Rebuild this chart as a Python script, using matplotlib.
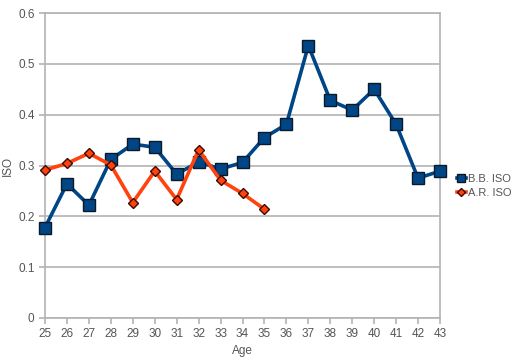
import matplotlib.pyplot as plt
from matplotlib.lines import Line2D

ages = list(range(25, 44))
bb_iso = [0.178, 0.264, 0.222, 0.312, 0.342, 0.336, 0.283, 0.307, 0.293, 0.306,
          0.355, 0.381, 0.536, 0.428, 0.409, 0.450, 0.381, 0.275, 0.289]
ar_ages = list(range(25, 36))
ar_iso = [0.291, 0.304, 0.324, 0.301, 0.227, 0.289, 0.233, 0.331, 0.271, 0.245, 0.214]

plt.rcParams['font.family'] = ['Liberation Sans', 'DejaVu Sans']
grey = '#b3b3b3'
txt = '#555555'

fig = plt.figure(figsize=(5.14, 3.6), dpi=100)
ax = fig.add_axes([45 / 514, 42 / 360, 395 / 514, 305 / 360])

ax.plot(ages, bb_iso, color='#004586', lw=2.6, marker='s', ms=8.5,
        mfc='#004586', mec='#0a1a2a', mew=1.0, label='B.B. ISO', zorder=3, clip_on=False)
ax.plot(ar_ages, ar_iso, color='#ff420e', lw=2.6, marker='D', ms=5.5,
        mfc='#ff420e', mec='#3a0a00', mew=1.0, label='A.R. ISO', zorder=4, clip_on=False)

ax.set_xlim(25, 43)
ax.set_ylim(0, 0.6)
ax.set_xticks(ages)
ax.set_yticks([0, 0.1, 0.2, 0.3, 0.4, 0.5, 0.6])
ax.set_yticklabels(['0', '0.1', '0.2', '0.3', '0.4', '0.5', '0.6'])
ax.yaxis.grid(True, color=grey, lw=1.2)
ax.set_axisbelow(True)
for s in ax.spines.values():
    s.set_color(grey)
    s.set_linewidth(1.2)
ax.tick_params(axis='both', colors=grey, labelcolor=txt, labelsize=8.5, length=4, width=1.2)
ax.set_xlabel('Age', fontsize=8.5, color=txt, labelpad=3)
ax.set_ylabel('ISO', fontsize=8.5, color=txt, labelpad=3)

handles = [
    Line2D([], [], color='#004586', lw=2.6, marker='s', ms=6, mfc='#004586', mec='#0a1a2a'),
    Line2D([], [], color='#ff420e', lw=2.6, marker='D', ms=4, mfc='#ff420e', mec='#3a0a00'),
]
fig.legend(handles, ['B.B. ISO', 'A.R. ISO'], loc='center left',
           bbox_to_anchor=(457 / 514, 1 - 186 / 360), frameon=False,
           fontsize=8, handlelength=0.8, handletextpad=0.2, labelspacing=0.3,
           borderaxespad=0, borderpad=0, labelcolor=txt)

fig.savefig('out.png', dpi=100)
